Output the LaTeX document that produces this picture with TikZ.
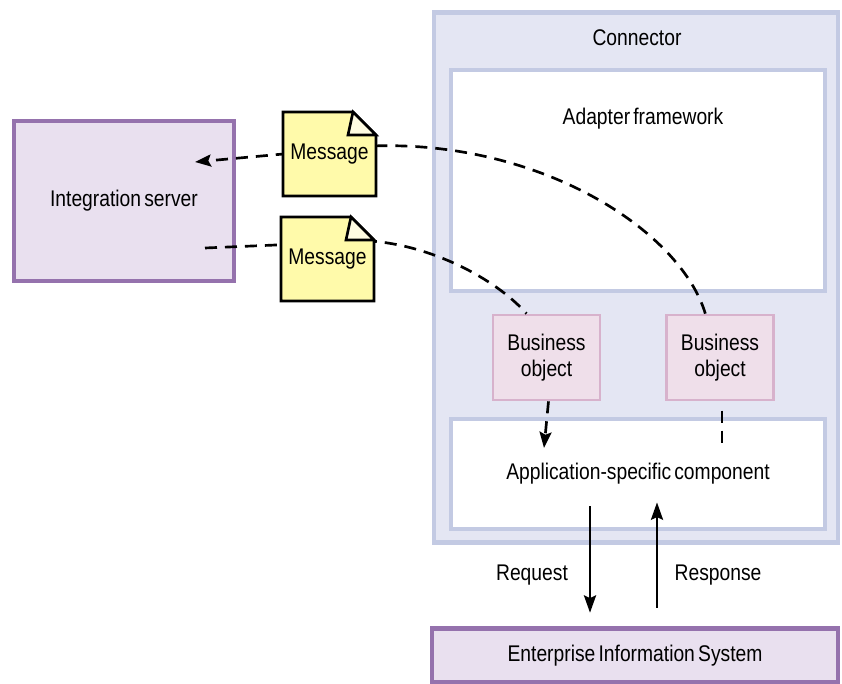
\documentclass[tikz,border=0pt]{standalone}
\usepackage{fontspec}
\setmainfont{Liberation Sans}[FakeStretch=0.85, WordSpace=0.6]
\usetikzlibrary{arrows.meta,calc}

\definecolor{connfill}{HTML}{E4E6F3}
\definecolor{connline}{HTML}{C3CAE3}
\definecolor{srvfill}{HTML}{E9E0EF}
\definecolor{srvline}{HTML}{9572AD}
\definecolor{bofill}{HTML}{EFDFEA}
\definecolor{boline}{HTML}{D7B2CC}
\definecolor{msgfill}{HTML}{FFFAAA}
\definecolor{foldfill}{HTML}{FFFCE2}

\tikzset{
	box/.style={draw=connline, line width=3.6pt, fill=white, inner sep=0pt},
	srvbox/.style={draw=srvline, line width=3.6pt, fill=srvfill, inner sep=0pt},
	bobj/.style={draw=boline, line width=1.8pt, fill=bofill, minimum width=80pt, minimum height=64pt, align=center, inner sep=0pt},
	flow/.style={dash pattern=on 9pt off 6pt, line width=2pt},
	tip/.style={-{Stealth[length=12pt,width=9pt,inset=2pt]}}
}

% dog-eared message note: name, centre
\newcommand{\msgnote}[2]{
	\draw[line width=2pt, fill=msgfill, line join=miter] ($(#2)+(-46.5,42)$) -- ($(#2)+(-46.5,-42)$) -- ($(#2)+(23.5,-42)$) -- ($(#2)+(46.5,-19)$) -- ($(#2)+(46.5,42)$) -- cycle;
	\draw[line width=2pt, fill=foldfill, line join=miter] ($(#2)+(23.5,-42)$) -- ($(#2)+(18.5,-19)$) -- ($(#2)+(46.5,-19)$) -- cycle;
	\node[inner sep=0pt] (#1) at (#2) {Message};
}

\begin{document}
\begin{tikzpicture}[x=0.75pt, y=-0.75pt, font=\fontsize{17}{19.5}\selectfont]
	\useasboundingbox (0,0) rectangle (842,684);
	% connector
	\node[box, fill=connfill, minimum width=303pt, minimum height=398pt] (conn) at (636,277.5) {};
	\node (connlbl) at (637,38) {Connector};
	\node[box, minimum width=280.5pt, minimum height=165.75pt] (adapt) at (638,180.5) {};
	\node (adaptlbl) at (643,119) {Adapter framework};
	\node[box, minimum width=280.5pt, minimum height=82.5pt] (app) at (638,474) {Application-specific component};
	\node[bobj] (bo1) at (546.5,357.5) {Business\\object};
	\node[bobj] (bo2) at (720,357.5) {Business\\object};
	%
	\node[srvbox, minimum width=304.5pt, minimum height=41pt] (eis) at (635,655.5) {Enterprise Information System};
	\node[srvbox, minimum width=165pt, minimum height=120pt] (srv) at (124,201) {Integration server};
	\coordinate (srvin) at (195,162);
	\coordinate (srvout) at (205,248);
	\coordinate (appin) at (544,448);
	%
	\draw[flow, tip] ([xshift=-11pt]bo2.north) .. controls (680,230) and (540,140) .. (372,146) -- (srvin);
	\draw[flow] (srvout) -- (370,241) .. controls (430,245) and (495,278) .. ([xshift=-15pt]bo1.north);
	\draw[flow, tip] ([xshift=1.5pt]bo1.south) -- (appin);
	\draw[flow] ([xshift=1.5pt, yshift=-7pt]bo2.south) -- ++(0,33);
	%
	\msgnote{msga}{329.5,154}
	\msgnote{msgb}{327.5,259}
	%
	\draw[line width=2pt, -{Stealth[length=13pt,width=9pt,inset=2pt]}] ($(app.south)+(-48,-25)$) -- ($(eis.north)+(-45,-13)$);
	\draw[line width=2pt, -{Stealth[length=13pt,width=9pt,inset=2pt]}] ($(eis.north)+(22,-18)$) -- ($(app.south)+(19,-29)$);
	\node (req) at (532,575) {Request};
	\node (resp) at (718,575) {Response};
\end{tikzpicture}
\end{document}
